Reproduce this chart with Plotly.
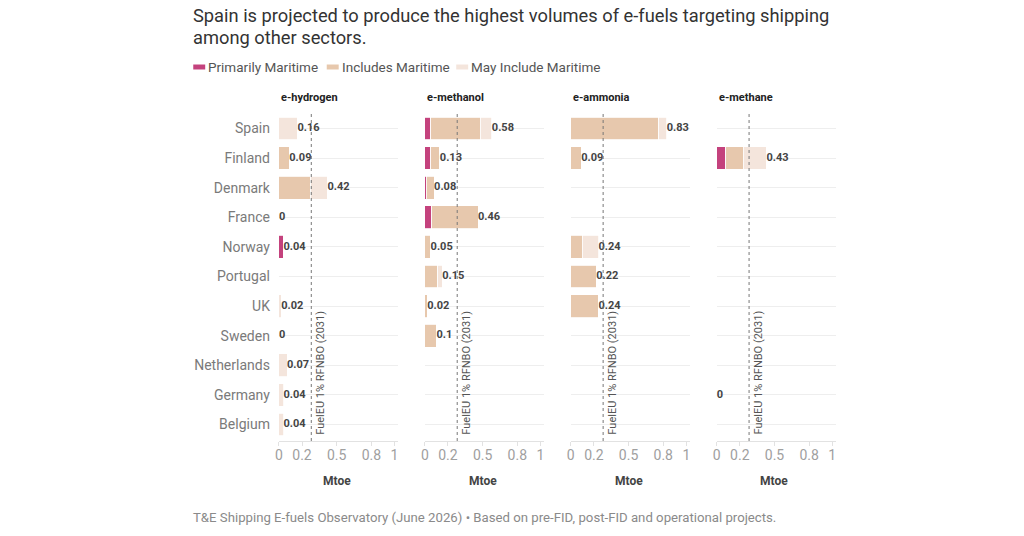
import plotly.graph_objects as go
from plotly.subplots import make_subplots

countries = ['Spain', 'Finland', 'Denmark', 'France', 'Norway', 'Portugal',
             'UK', 'Sweden', 'Netherlands', 'Germany', 'Belgium']
fuels = ['e-hydrogen', 'e-methanol', 'e-ammonia', 'e-methane']

# Mtoe per segment, same order as countries
h2_primarily = [0, 0, 0, 0, 0.04, 0, 0, 0, 0, 0, 0]
h2_includes = [0, 0.09, 0.27, 0, 0, 0, 0, 0, 0, 0, 0]
h2_may = [0.16, 0, 0.15, 0, 0, 0, 0.02, 0, 0.07, 0.04, 0.04]
h2_total = [0.16, 0.09, 0.42, 0, 0.04, None, 0.02, 0, 0.07, 0.04, 0.04]

meoh_primarily = [0.05, 0.05, 0.01, 0.06, 0, 0, 0, 0, 0, 0, 0]
meoh_includes = [0.43, 0.08, 0.07, 0.40, 0.05, 0.11, 0.02, 0.10, 0, 0, 0]
meoh_may = [0.10, 0, 0, 0, 0, 0.04, 0, 0, 0, 0, 0]
meoh_total = [0.58, 0.13, 0.08, 0.46, 0.05, 0.15, 0.02, 0.1, None, None, None]

nh3_primarily = [0, 0, 0, 0, 0, 0, 0, 0, 0, 0, 0]
nh3_includes = [0.76, 0.09, 0, 0, 0.10, 0.22, 0.24, 0, 0, 0, 0]
nh3_may = [0.07, 0, 0, 0, 0.14, 0, 0, 0, 0, 0, 0]
nh3_total = [0.83, 0.09, None, None, 0.24, 0.22, 0.24, None, None, None, None]

ch4_primarily = [0, 0.08, 0, 0, 0, 0, 0, 0, 0, 0, 0]
ch4_includes = [0, 0.15, 0, 0, 0, 0, 0, 0, 0, 0, 0]
ch4_may = [0, 0.20, 0, 0, 0, 0, 0, 0, 0, 0, 0]
ch4_total = [None, 0.43, None, None, None, None, None, None, None, 0, None]

fueleu_target = 0.28
x_ticks = [0, 0.2, 0.5, 0.8, 1]

segments = ['Primarily Maritime', 'Includes Maritime', 'May Include Maritime']
colors = ['#c4427d', '#e7c8ad', '#f4e5dc']

panels = [
    (h2_primarily, h2_includes, h2_may, h2_total),
    (meoh_primarily, meoh_includes, meoh_may, meoh_total),
    (nh3_primarily, nh3_includes, nh3_may, nh3_total),
    (ch4_primarily, ch4_includes, ch4_may, ch4_total),
]

W, H = 1024, 536
X_OFF = -3
def px(x):
    return (x + X_OFF) / W
def py(y):
    return 1 - y / H

fig = make_subplots(rows=1, cols=4, shared_yaxes=True)

for i, (p, inc, may, tot) in enumerate(panels):
    col = i + 1
    for vals, name, c in zip([p, inc, may], segments, colors):
        fig.add_trace(go.Bar(
            x=vals, y=countries, orientation='h', name=name,
            marker=dict(color=c, line=dict(color='white', width=0.8)),
            showlegend=False, hoverinfo='x+y+name'), row=1, col=col)
    lx = [v for v in tot if v is not None]
    ly = [c for c, v in zip(countries, tot) if v is not None]
    fig.add_trace(go.Scatter(
        x=lx, y=ly, mode='text', text=[f'{v:g}' for v in lx],
        textposition='middle right',
        textfont=dict(size=11, color='#444', family='Roboto', weight=700),
        cliponaxis=False, showlegend=False, hoverinfo='skip'), row=1, col=col)

fig.update_layout(
    width=W, height=H, barmode='stack', bargap=0.23,
    margin=dict(l=0, r=0, t=0, b=0),
    paper_bgcolor='white', plot_bgcolor='white',
    font=dict(family='Roboto', color='#555'),
)

y0, y1 = py(441), py(112)
for i in range(4):
    x0 = px(279 + 146.5 * i)
    x1 = x0 + 119.5 / W
    suffix = '' if i == 0 else str(i + 1)
    fig.layout['xaxis' + suffix].update(
        domain=[x0, x1], range=[0, 1.03], tickvals=x_ticks,
        ticktext=[f'{t:g}' for t in x_ticks],
        showgrid=False, zeroline=False, showline=True, linecolor='#e2e2e2',
        ticks='outside', ticklen=4, tickcolor='#e2e2e2', ticklabelstandoff=-3,
        tickfont=dict(size=14, color='#a0a0a0'), fixedrange=True)
    fig.layout['yaxis' + suffix].update(
        domain=[y0, y1], categoryorder='array', categoryarray=countries,
        autorange='reversed', showgrid=True, gridcolor='#eeeeee',
        zeroline=False, ticks='', fixedrange=True,
        tickfont=dict(size=14, color='#7a7a7a'))
    xref = 'x' + suffix
    fig.add_shape(type='line', xref=xref, yref='paper',
                  x0=fueleu_target, x1=fueleu_target, y0=y0, y1=y1,
                  line=dict(color='#777', width=1, dash='dot'))
    fig.add_annotation(x=fueleu_target, xref=xref, y=y0, yref='paper',
                       text='FuelEU 1% RFNBO (2031)', textangle=-90,
                       xanchor='left', yanchor='bottom', xshift=0, yshift=4,
                       showarrow=False, font=dict(size=11, color='#555'))
    fig.add_annotation(x=x0, xref='paper', y=py(97), yref='paper',
                       text='<b>' + fuels[i] + '</b>', xanchor='left',
                       yanchor='middle', showarrow=False,
                       font=dict(size=11, color='#222'))
    fig.add_annotation(x=px(279 + 146.5 * i + 58), xref='paper', y=py(481),
                       yref='paper', text='<b>Mtoe</b>', xanchor='center',
                       yanchor='middle', showarrow=False,
                       font=dict(size=12, color='#444'))

fig.layout.yaxis.update(ticklabelstandoff=8)

# title
fig.add_annotation(x=px(191), xref='paper', y=py(16), yref='paper',
                   text='Spain is projected to produce the highest volumes of e-fuels targeting shipping',
                   xanchor='left', yanchor='middle', showarrow=False,
                   font=dict(size=18.3, color='#333'))
fig.add_annotation(x=px(191), xref='paper', y=py(37), yref='paper',
                   text='among other sectors.',
                   xanchor='left', yanchor='middle', showarrow=False,
                   font=dict(size=18.3, color='#333'))

# legend
legend_x = [193, 327, 457]
for lxp, name, c in zip(legend_x, segments, colors):
    fig.add_shape(type='rect', xref='paper', yref='paper',
                  x0=px(lxp), x1=px(lxp + 12), y0=py(69.5), y1=py(64.5),
                  fillcolor=c, line=dict(width=0))
    fig.add_annotation(x=px(lxp + 13), xref='paper', y=py(67), yref='paper',
                       text=name, xanchor='left', yanchor='middle',
                       showarrow=False, font=dict(size=13.5, color='#555'))

# footer
fig.add_annotation(x=px(191), xref='paper', y=py(517), yref='paper',
                   text='T&E Shipping E-fuels Observatory (June 2026) \u2022 Based on pre-FID, post-FID and operational projects.',
                   xanchor='left', yanchor='middle', showarrow=False,
                   font=dict(size=13.2, color='#8a8a8a'))

fig.write_html('out.html', config={'displayModeBar': False},
               post_script="document.body.style.margin='0';")
